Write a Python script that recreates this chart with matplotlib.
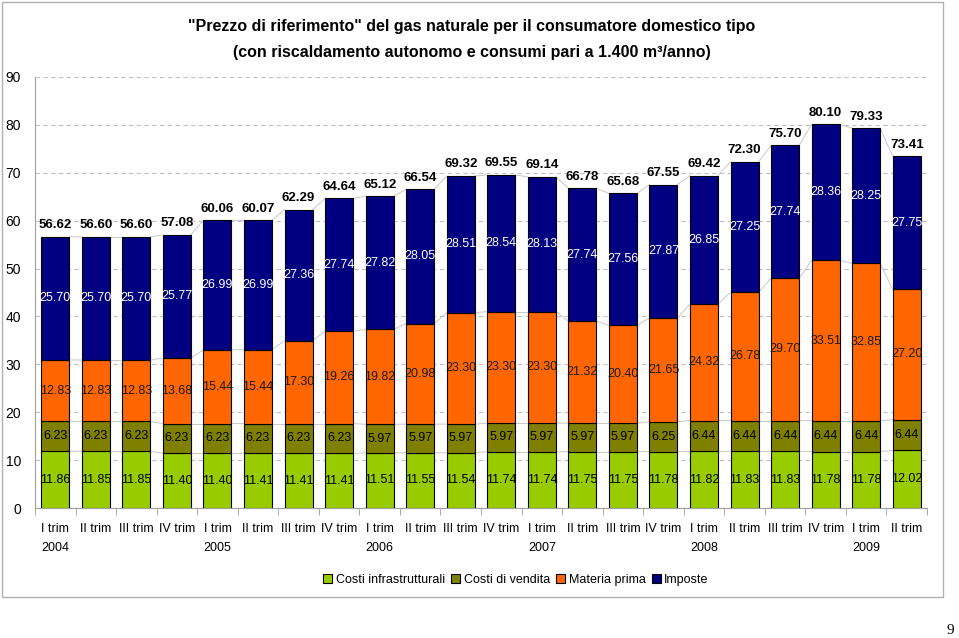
import numpy as np
import matplotlib.pyplot as plt
from matplotlib.patches import Rectangle

plt.rcParams["font.family"] = ["Liberation Sans", "DejaVu Sans"]

# Quarterly categories, 2004 I trim -> 2009 II trim
quarters = ["I trim", "II trim", "III trim", "IV trim"] * 5 + ["I trim", "II trim"]
years = ["2004", "2005", "2006", "2007", "2008", "2009"]

infrastrutturali = [11.86, 11.85, 11.85, 11.40, 11.40, 11.41, 11.41, 11.41,
                    11.51, 11.55, 11.54, 11.74, 11.74, 11.75, 11.75, 11.78,
                    11.82, 11.83, 11.83, 11.78, 11.78, 12.02]
vendita = [6.23, 6.23, 6.23, 6.23, 6.23, 6.23, 6.23, 6.23,
           5.97, 5.97, 5.97, 5.97, 5.97, 5.97, 5.97, 6.25,
           6.44, 6.44, 6.44, 6.44, 6.44, 6.44]
materia_prima = [12.83, 12.83, 12.83, 13.68, 15.44, 15.44, 17.30, 19.26,
                 19.82, 20.98, 23.30, 23.30, 23.30, 21.32, 20.40, 21.65,
                 24.32, 26.78, 29.70, 33.51, 32.85, 27.20]
imposte = [25.70, 25.70, 25.70, 25.77, 26.99, 26.99, 27.36, 27.74,
           27.82, 28.05, 28.51, 28.54, 28.13, 27.74, 27.56, 27.87,
           26.85, 27.25, 27.74, 28.36, 28.25, 27.75]
totali = [56.62, 56.60, 56.60, 57.08, 60.06, 60.07, 62.29, 64.64,
          65.12, 66.54, 69.32, 69.55, 69.14, 66.78, 65.68, 67.55,
          69.42, 72.30, 75.70, 80.10, 79.33, 73.41]

series = [
    ("Costi infrastrutturali", infrastrutturali, "#99CC00", "black"),
    ("Costi di vendita", vendita, "#808000", "black"),
    ("Materia prima", materia_prima, "#FF6600", "#1a1a1a"),
    ("Imposte", imposte, "#000080", "white"),
]

fig = plt.figure(figsize=(9.59, 6.38), dpi=100)
ax = fig.add_axes([35 / 959, 1 - 508 / 638, 892 / 959, 431 / 638])

x = np.arange(len(quarters))
width = 0.69
bottom = np.zeros(len(x))
levels = []
for name, vals, color, tcolor in series:
    vals = np.array(vals)
    ax.bar(x, vals, width, bottom=bottom, color=color, edgecolor="black",
           linewidth=0.8, label=name, zorder=3)
    for xi, b, v in zip(x, bottom, vals):
        ax.text(xi, b + v / 2, f"{v:.2f}", ha="center", va="center",
                fontsize=9, color=tcolor, zorder=4)
    bottom = bottom + vals
    levels.append(bottom.copy())

# series lines between bars
for lev in levels:
    for i in range(len(x) - 1):
        ax.plot([x[i] + width / 2, x[i + 1] - width / 2], [lev[i], lev[i + 1]],
                color="#c8c8c8", linewidth=0.7, zorder=2)

for xi, top, t in zip(x, levels[-1], totali):
    ax.annotate(f"{t:.2f}", (xi, top), xytext=(0, 4), textcoords="offset points",
                ha="center", va="bottom", fontsize=9.5, fontweight="bold")

ax.set_xlim(-0.5, len(x) - 0.5)
ax.set_ylim(0, 90)
ax.set_yticks(range(0, 91, 10))
ax.tick_params(axis="y", length=0, labelsize=10, pad=10)
ax.yaxis.grid(True, linestyle=(0, (4, 3)), color="#c0c0c0", linewidth=0.8, zorder=0)

labels = []
for i, q in enumerate(quarters):
    yr = years[i // 4] if i % 4 == 0 else ""
    labels.append(f"{q}\n{yr}")
ax.set_xticks(x)
ax.set_xticklabels(labels, fontsize=9, linespacing=1.8)
ax.set_xticks(np.arange(-0.5, len(x), 1), minor=True)
ax.tick_params(axis="x", which="major", length=0, pad=11)
ax.tick_params(axis="x", which="minor", length=5, color="#a0a0a0")

for side in ["top", "right"]:
    ax.spines[side].set_visible(False)
ax.spines["left"].set_color("#a0a0a0")
ax.spines["bottom"].set_color("#a0a0a0")

fig.text(472 / 959, 1 - 27 / 638,
         "\"Prezzo di riferimento\" del gas naturale per il consumatore domestico tipo",
         ha="center", va="center", fontsize=11.5, fontweight="bold")
fig.text(472 / 959, 1 - 52 / 638,
         "(con riscaldamento autonomo e consumi pari a 1.400 m\u00b3/anno)",
         ha="center", va="center", fontsize=11.5, fontweight="bold")

fig.legend(loc="center", bbox_to_anchor=(516 / 959, 1 - 580 / 638), ncol=4,
           frameon=False, fontsize=9, handlelength=0.7, handleheight=0.7,
           handletextpad=0.3, columnspacing=0.5)

fig.patches.append(Rectangle((2 / 959, 1 - 597 / 638), 941 / 959, 595 / 638,
                             transform=fig.transFigure, fill=False,
                             edgecolor="#b0b0b0", linewidth=1))
fig.text(950 / 959, 1 - 630 / 638, "9", ha="center", va="center", fontsize=11,
         family="Liberation Serif")

fig.savefig("out.png", dpi=100)
